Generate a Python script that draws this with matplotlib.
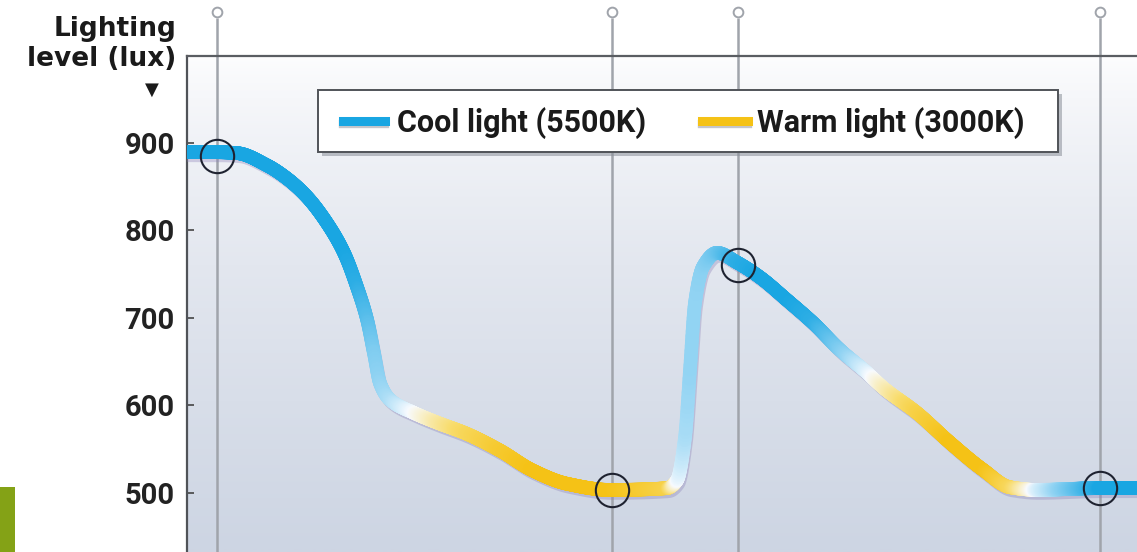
import numpy as np
import matplotlib
matplotlib.use("Agg")
import matplotlib.pyplot as plt
import matplotlib.transforms as mtransforms
from matplotlib.collections import LineCollection
from matplotlib.colors import LinearSegmentedColormap
from matplotlib.patches import Rectangle

# ---- data ----
# time along the day (arbitrary units), lighting level (lux),
# colour temperature mix (0 = cool 5500K, 1 = warm 3000K)
time = [0.00, 0.30, 0.50, 0.80, 1.00, 1.20, 1.40, 1.57, 1.70, 1.80, 1.87,
        1.93, 2.03, 2.27, 2.50, 2.80, 3.13, 3.46, 3.80, 4.23, 4.80, 4.90,
        4.98, 5.03, 5.08, 5.16, 5.30, 5.50, 5.73, 6.00, 6.26, 6.53, 6.80,
        6.96, 7.30, 7.63, 7.96, 8.23, 8.50, 9.13, 9.50]
lux = [889, 889, 888, 874, 859, 838, 808, 774, 735, 698, 659,
       625, 606, 591, 580, 567, 548, 525, 510, 503, 505, 514,
       563, 640, 717, 758, 774, 763, 746, 720, 694, 663, 637,
       620, 591, 557, 526, 506, 503, 505, 505]
warmth = [0.0, 0.0, 0.0, 0.0, 0.0, 0.0, 0.0, 0.0, 0.05, 0.15, 0.25,
          0.30, 0.35, 0.50, 0.65, 0.80, 0.92, 1.0, 1.0, 1.0, 0.85, 0.50,
          0.35, 0.30, 0.30, 0.28, 0.20, 0.05, 0.0, 0.0, 0.05, 0.25, 0.45,
          0.60, 0.85, 1.0, 1.0, 0.80, 0.45, 0.0, 0.0]

marker_times = [0.30, 4.25, 5.51, 9.13]
marker_lux = [885, 503, 760, 505]

yticks = [500, 600, 700, 800, 900]
legend_labels = ["Cool light (5500K)", "Warm light (3000K)"]

COOL = "#19a6e2"
WARM = "#f5c216"
cmap = LinearSegmentedColormap.from_list(
    "light", [(0.0, COOL), (0.3, "#93d4f3"), (0.5, "#f8fbff"),
              (0.75, "#f8dc6c"), (1.0, WARM)])

FONT = ["Roboto", "DejaVu Sans"]
W, H = 1137, 552


def pchip(x, y, xs):
    """Monotone cubic (Fritsch-Carlson) curve through the read points."""
    x = np.asarray(x, float)
    y = np.asarray(y, float)
    h = np.diff(x)
    d = np.diff(y) / h
    m = np.zeros_like(y)
    for k in range(1, len(x) - 1):
        if d[k - 1] * d[k] > 0:
            w1 = 2 * h[k] + h[k - 1]
            w2 = h[k] + 2 * h[k - 1]
            m[k] = (w1 + w2) / (w1 / d[k - 1] + w2 / d[k])
    m[0], m[-1] = d[0], d[-1]
    idx = np.clip(np.searchsorted(x, xs) - 1, 0, len(x) - 2)
    t = (xs - x[idx]) / h[idx]
    h00 = 2 * t**3 - 3 * t**2 + 1
    h10 = t**3 - 2 * t**2 + t
    h01 = -2 * t**3 + 3 * t**2
    h11 = t**3 - t**2
    return (h00 * y[idx] + h10 * h[idx] * m[idx]
            + h01 * y[idx + 1] + h11 * h[idx] * m[idx + 1])


def fx(px):
    return px / W


def fy(py):
    return 1 - py / H


fig = plt.figure(figsize=(W / 100, H / 100), dpi=100)
fig.patch.set_facecolor("white")
ax = fig.add_axes([fx(187), 0, fx(950), 496 / H])
ax.set_xlim(0, 9.5)
ax.set_ylim(432, 999)

# background gradient, light at the top
grad = np.linspace(0, 1, 256).reshape(-1, 1) ** 0.8
bg = LinearSegmentedColormap.from_list("bg", ["#fdfdfe", "#e3e7ef", "#cdd5e3"])
ax.imshow(grad, cmap=bg, aspect="auto", extent=[0, 1, 0, 1],
          transform=ax.transAxes, zorder=0)

# marker lines with small pins above the plot
ax.vlines(marker_times, 432, 1043, color="#a0a4ab", lw=1.8,
          clip_on=False, zorder=1)
ax.plot(marker_times, [1049] * len(marker_times), "o", ms=7,
        mfc="white", mec="#a0a4ab", mew=1.4, clip_on=False, zorder=2)

# curve
xs = np.linspace(time[0], time[-1], 3000)
ys = pchip(time, lux, xs)
cs = np.interp(xs, time, warmth)

shadow = mtransforms.offset_copy(ax.transData, fig=fig, x=2, y=-4,
                                 units="dots")
ax.plot(xs, ys, color="#8a80b8", lw=8.5, alpha=0.35, transform=shadow,
        solid_capstyle="round", zorder=3)

pts = np.column_stack([xs, ys]).reshape(-1, 1, 2)
segs = np.concatenate([pts[:-1], pts[1:]], axis=1)
lc = LineCollection(segs, colors=cmap((cs[:-1] + cs[1:]) / 2), lw=9.8,
                    capstyle="round", zorder=4)
ax.add_collection(lc)

ax.plot(marker_times, marker_lux, "o", ms=24, mfc="none", mec="#1e2230",
        mew=1.5, zorder=5)

# axes styling
for side in ["right", "bottom"]:
    ax.spines[side].set_visible(False)
ax.spines["left"].set_color("#505358")
ax.spines["left"].set_linewidth(1.6)
ax.spines["top"].set_color("#5a5d62")
ax.spines["top"].set_linewidth(1.6)
ax.set_xticks([])
ax.set_yticks(yticks)
ax.tick_params(axis="y", direction="in", length=5, width=1.2,
               color="#444444", pad=9, labelsize=21, labelcolor="#222222")
for lab in ax.get_yticklabels():
    lab.set_fontfamily(FONT)
    lab.set_fontweight("bold")

fig.text(fx(176), fy(16), "Lighting\nlevel (lux)", ha="right",
         va="top", fontsize=19, fontweight="bold", color="#1a1a1a",
         linespacing=1.2)
fig.text(fx(152), fy(90), "\u25bc", ha="center", va="center",
         fontsize=13, color="#1a1a1a")

# legend box
fig.add_artist(Rectangle((fx(322), fy(156)), fx(740), 62 / H,
                         transform=fig.transFigure, facecolor="#8a8f99",
                         alpha=0.55, edgecolor="none", zorder=6))
fig.add_artist(Rectangle((fx(318), fy(152)), fx(740), 62 / H,
                         transform=fig.transFigure, facecolor="white",
                         edgecolor="#505358", lw=1.4, zorder=7))
for (x0, x1, tx), colour, label in zip([(343, 385, 397), (702, 748, 757)],
                                       [COOL, WARM], legend_labels):
    fig.add_artist(plt.Line2D([fx(x0), fx(x1)], [fy(124), fy(124)],
                              transform=fig.transFigure, color="#8a8f99",
                              alpha=0.5, lw=6, zorder=8))
    fig.add_artist(plt.Line2D([fx(x0), fx(x1)], [fy(121), fy(121)],
                              transform=fig.transFigure, color=colour,
                              lw=6.5, zorder=9))
    fig.text(fx(tx), fy(120), label, ha="left", va="center_baseline",
             fontsize=22, family=FONT, fontweight="bold",
             color="#1a1a1a", zorder=9)

# green tab bottom-left
fig.add_artist(Rectangle((0, 0), fx(15), 65 / H, transform=fig.transFigure,
                         facecolor="#84a216", edgecolor="none"))

fig.savefig("out.png", dpi=100, facecolor="white")
